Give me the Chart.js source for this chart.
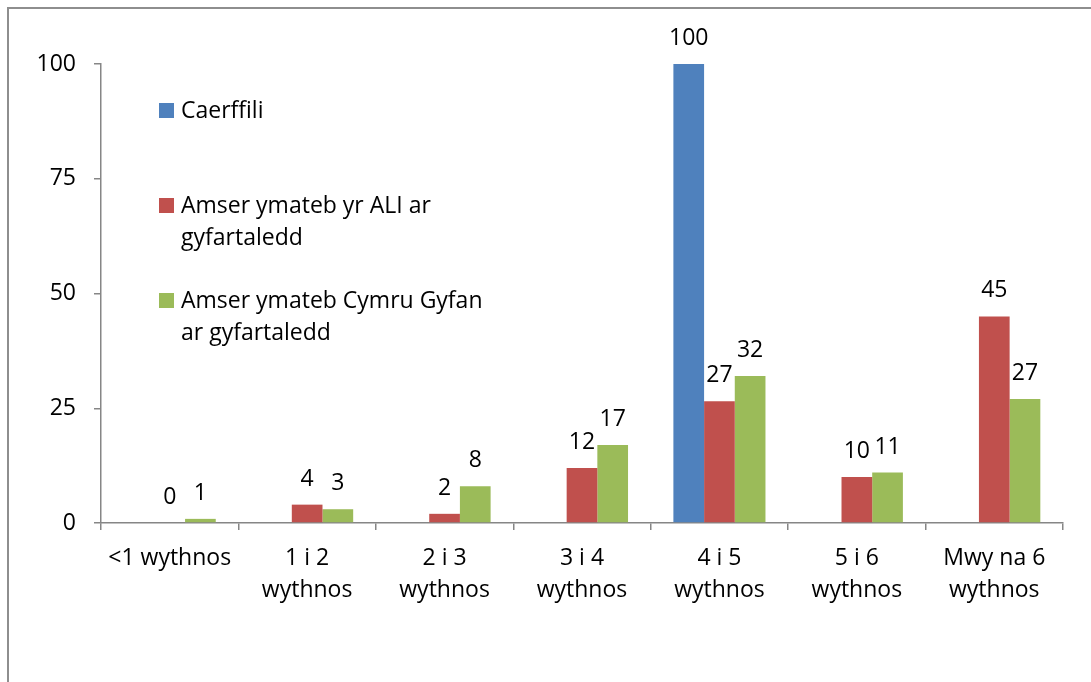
<!DOCTYPE html>
<html>
<head>
<meta charset="utf-8">
<script src="https://cdn.jsdelivr.net/npm/chart.js@4/dist/chart.umd.min.js"></script>
<style>
    html, body { margin: 0; padding: 0; background: #fff; overflow: hidden; }
    #wrap { position: relative; width: 1091px; height: 682px; }
    #frame { position: absolute; left: 7px; top: 7px; width: 1200px; height: 800px; border: 2px solid #8e8e8e; box-sizing: border-box; }
    canvas { position: absolute; left: 0; top: 0; }
</style>
</head>
<body>
<div id="wrap">
    <div id="frame"></div>
    <canvas id="chart" width="1091" height="682"></canvas>
</div>
<script>
// chart data
const categories = [
    ['<1 wythnos'],
    ['1 i 2', 'wythnos'],
    ['2 i 3', 'wythnos'],
    ['3 i 4', 'wythnos'],
    ['4 i 5', 'wythnos'],
    ['5 i 6', 'wythnos'],
    ['Mwy na 6', 'wythnos']
];
const seriesNames = [
    'Caerffili',
    'Amser ymateb yr ALI ar gyfartaledd',
    'Amser ymateb Cymru Gyfan ar gyfartaledd'
];
const caerffili = [null, null, null, null, 100, null, null];
const aliAverage = [0, 4, 2, 12, 26.5, 10, 45];
const walesAverage = [0.9, 3, 8, 17, 32, 11, 27];
const yTicks = [0, 25, 50, 75, 100];

const colors = ['#4f81bd', '#c0504d', '#9bbb59'];
const FONT = '"Open Sans", "Liberation Sans", sans-serif';
const FONT_SIZE = 23;

// value labels above each bar
const valueLabels = {
    id: 'valueLabels',
    afterDatasetsDraw(chart) {
        const ctx = chart.ctx;
        ctx.save();
        ctx.font = `${FONT_SIZE}px ${FONT}`;
        ctx.fillStyle = '#000';
        ctx.textAlign = 'center';
        ctx.textBaseline = 'alphabetic';
        chart.data.datasets.forEach((ds, i) => {
            const meta = chart.getDatasetMeta(i);
            meta.data.forEach((bar, j) => {
                const v = ds.data[j];
                if (v === null || v === undefined) return;
                ctx.fillText(String(Math.round(v)), bar.x, bar.y - 19);
            });
        });
        ctx.restore();
    }
};

// legend drawn inside the plot, with wrapped entries
const insideLegend = {
    id: 'insideLegend',
    afterDraw(chart) {
        const ctx = chart.ctx;
        const x = 159, firstY = 111, rowGap = 95, lineH = 32, maxW = 310;
        ctx.save();
        ctx.font = `${FONT_SIZE}px ${FONT}`;
        ctx.textBaseline = 'middle';
        ctx.textAlign = 'left';
        chart.data.datasets.forEach((ds, i) => {
            const y = firstY + i * rowGap;
            ctx.fillStyle = ds.backgroundColor;
            ctx.fillRect(x, y - 8, 15, 15);
            // wrap words
            const words = ds.label.split(' ');
            const lines = [];
            let cur = '';
            words.forEach(w => {
                const test = cur ? cur + ' ' + w : w;
                if (ctx.measureText(test).width > maxW && cur) {
                    lines.push(cur);
                    cur = w;
                } else {
                    cur = test;
                }
            });
            if (cur) lines.push(cur);
            ctx.fillStyle = '#000';
            lines.forEach((ln, k) => ctx.fillText(ln, x + 22, y + k * lineH));
        });
        ctx.restore();
    }
};

new Chart(document.getElementById('chart'), {
    type: 'bar',
    data: {
        labels: categories,
        datasets: [
            { label: seriesNames[0], data: caerffili, backgroundColor: colors[0] },
            { label: seriesNames[1], data: aliAverage, backgroundColor: colors[1] },
            { label: seriesNames[2], data: walesAverage, backgroundColor: colors[2] }
        ]
    },
    options: {
        responsive: false,
        animation: false,
        layout: { padding: { left: 0, top: 64, right: 28, bottom: 0 } },
        datasets: { bar: { categoryPercentage: 0.67, barPercentage: 1.0 } },
        plugins: {
            legend: { display: false },
            tooltip: { enabled: false }
        },
        scales: {
            x: {
                afterFit: s => { s.height = 159; },
                grid: { drawOnChartArea: false, tickLength: 7, color: '#868686', lineWidth: 1.5 },
                border: { color: '#868686', width: 1.5 },
                ticks: { color: '#000', font: { family: FONT, size: FONT_SIZE, lineHeight: 1.4 }, padding: 12, maxRotation: 0, autoSkip: false }
            },
            y: {
                min: 0,
                max: 100,
                afterFit: s => { s.width = 101; },
                afterBuildTicks: s => { s.ticks = yTicks.map(v => ({ value: v })); },
                grid: { drawOnChartArea: false, tickLength: 7, color: '#868686', lineWidth: 1.5 },
                border: { color: '#868686', width: 1.5 },
                ticks: { color: '#000', font: { family: FONT, size: FONT_SIZE }, padding: 18 }
            }
        }
    },
    plugins: [valueLabels, insideLegend]
});
</script>
</body>
</html>
